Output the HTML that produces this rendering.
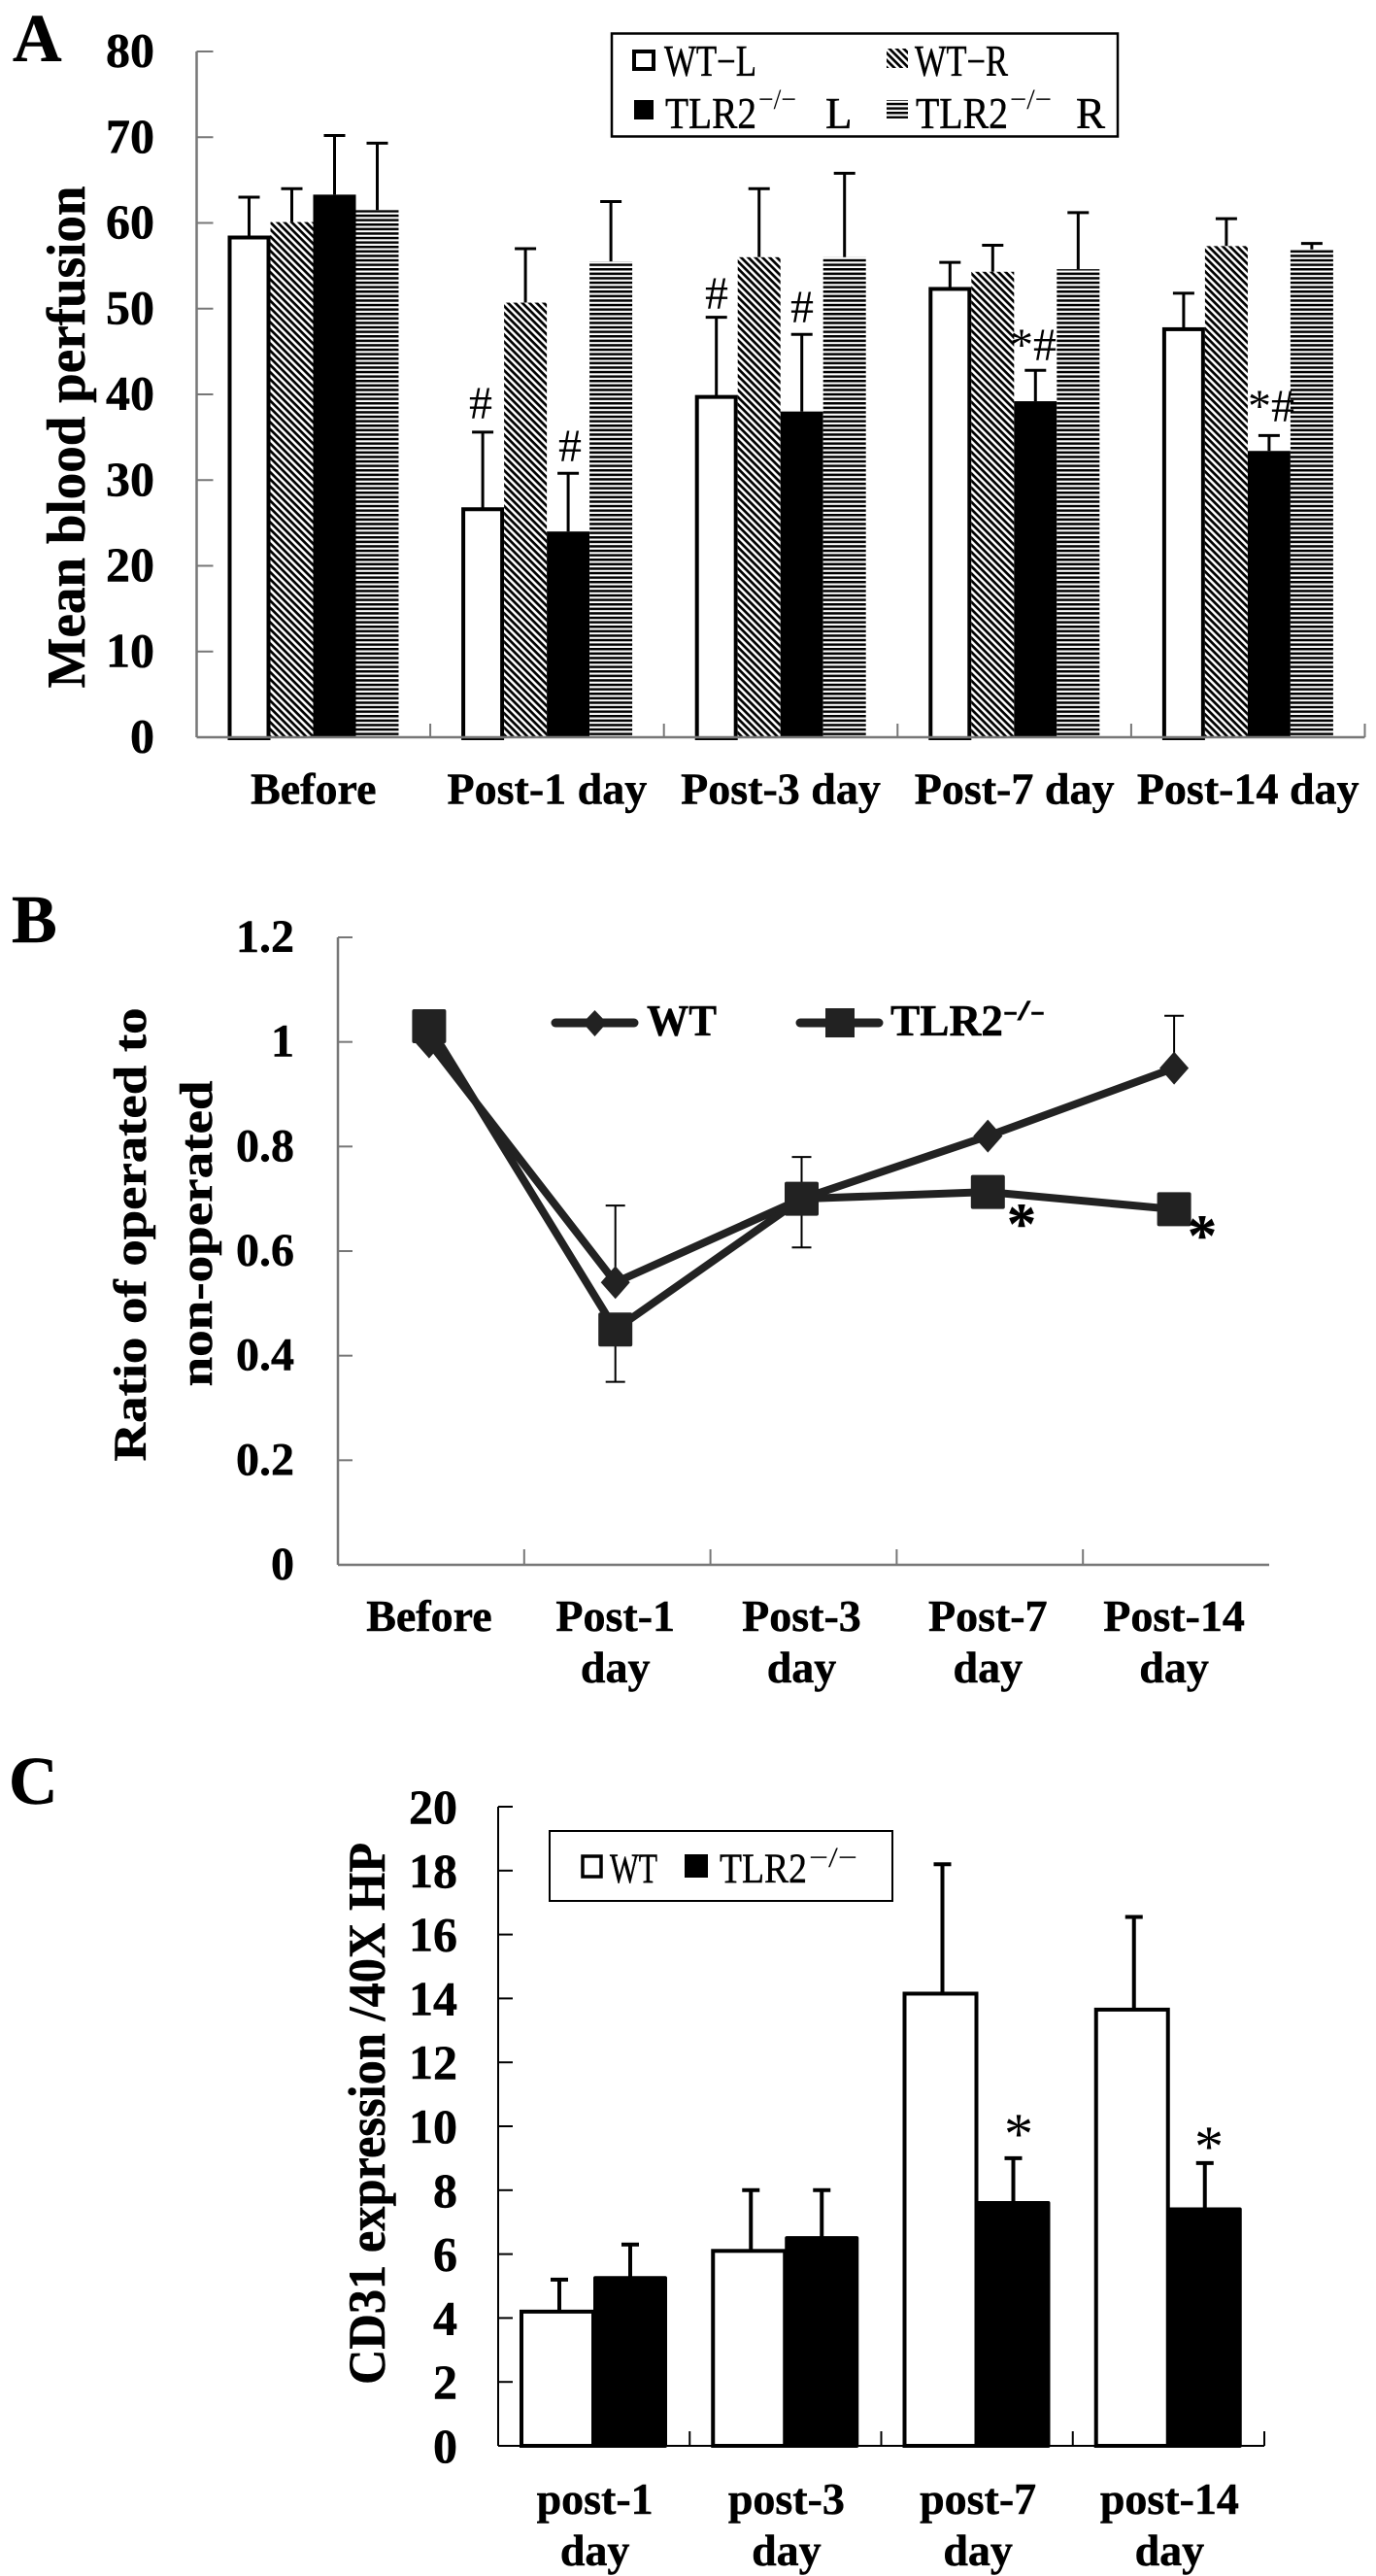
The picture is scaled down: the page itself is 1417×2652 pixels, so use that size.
<!DOCTYPE html>
<html lang="en">
<head>
<meta charset="utf-8">
<title>Blood perfusion and CD31 expression</title>
<style>
html,body{margin:0;padding:0;background:#fff}
svg{display:block}
text{font-family:"Liberation Serif",serif;fill:#000}
.b{font-weight:bold;stroke:#000;stroke-width:.5}
.r{stroke:#000;stroke-width:.5}
</style>
</head>
<body>
<svg id="fig" xmlns="http://www.w3.org/2000/svg" width="1417" height="2652" viewBox="0 0 1417 2652">
<defs>
<pattern id="hatch" patternUnits="userSpaceOnUse" width="5.2" height="5.2" patternTransform="rotate(45)"><rect width="5.2" height="5.2" fill="#fff"/><rect width="5.2" height="2.7" fill="#000"/></pattern>
<pattern id="hlines" patternUnits="userSpaceOnUse" width="4.6" height="4.6"><rect width="4.6" height="4.6" fill="#fff"/><rect width="4.6" height="2.5" fill="#000"/></pattern>
</defs>
<rect width="1417" height="2652" fill="#fff"/>

<text class="b" x="13" y="63" font-size="70">A</text>
<text class="b" x="12" y="970" font-size="70">B</text>
<text class="b" x="9" y="1857" font-size="70">C</text>

<g id="chartA"></g>
<g id="chartB"></g>
<g id="chartC"></g>

<text class="b" transform="translate(87,450) rotate(-90)" text-anchor="middle" font-size="56" textLength="517" lengthAdjust="spacingAndGlyphs">Mean blood perfusion</text>

<g>
<rect x="630" y="34.5" width="521" height="106" fill="#fff" stroke="#000" stroke-width="2.5"/>
<rect x="653" y="53" width="20" height="18" fill="#fff" stroke="#000" stroke-width="4"/>
<text class="r" x="684" y="78" font-size="45" textLength="95" lengthAdjust="spacingAndGlyphs">WT−L</text>
<rect x="913" y="50" width="22" height="20" fill="url(#hatch)"/>
<text class="r" x="942" y="78" font-size="45" textLength="96" lengthAdjust="spacingAndGlyphs">WT−R</text>
<rect x="653" y="103" width="20" height="20" fill="#000"/>
<text class="r" x="685" y="132" font-size="45" textLength="94" lengthAdjust="spacingAndGlyphs">TLR2</text>
<text x="781" y="112" font-size="30" textLength="39" lengthAdjust="spacingAndGlyphs">−/−</text>
<text class="r" x="850" y="132" font-size="45">L</text>
<rect x="913" y="103" width="22" height="19" fill="url(#hlines)"/>
<text class="r" x="943" y="132" font-size="45" textLength="95" lengthAdjust="spacingAndGlyphs">TLR2</text>
<text x="1040" y="112" font-size="30" textLength="43" lengthAdjust="spacingAndGlyphs">−/−</text>
<text class="r" x="1108" y="132" font-size="45">R</text>
</g>

<g>
<text x="495" y="431" font-size="48" text-anchor="middle">#</text>
<text x="587" y="475" font-size="48" text-anchor="middle">#</text>
<text x="738" y="318" font-size="48" text-anchor="middle">#</text>
<text x="826" y="332" font-size="48" text-anchor="middle">#</text>
<text x="1064" y="371" font-size="48" text-anchor="middle">*#</text>
<text x="1309" y="434" font-size="48" text-anchor="middle">*#</text>
</g>

<text class="b" transform="translate(150,1271) rotate(-90)" text-anchor="middle" font-size="48" textLength="467" lengthAdjust="spacingAndGlyphs">Ratio of operated to</text>
<text class="b" transform="translate(218,1270) rotate(-90)" text-anchor="middle" font-size="48" textLength="315" lengthAdjust="spacingAndGlyphs">non-operated</text>

<g>
<line x1="572" y1="1053" x2="653" y2="1053" stroke="#222" stroke-width="9" stroke-linecap="round"/>
<polygon points="612.5,1040 625,1053 612.5,1067 600,1053" fill="#222"/>
<text class="b" x="666" y="1066" font-size="46" textLength="72" lengthAdjust="spacingAndGlyphs">WT</text>
<line x1="824" y1="1053" x2="905" y2="1053" stroke="#222" stroke-width="9" stroke-linecap="round"/>
<rect x="850" y="1038" width="30" height="30" fill="#222"/>
<text class="b" x="917" y="1066" font-size="46" textLength="116" lengthAdjust="spacingAndGlyphs">TLR2</text>
<text class="b" x="1033" y="1050" font-size="30" textLength="43" lengthAdjust="spacingAndGlyphs">-/-</text>
</g>

<text class="b" x="1052" y="1280" font-size="60" text-anchor="middle">*</text>
<text class="b" x="1238" y="1292" font-size="60" text-anchor="middle">*</text>

<text class="b" transform="translate(396,2176) rotate(-90)" text-anchor="middle" font-size="54" textLength="558" lengthAdjust="spacingAndGlyphs">CD31 expression /40X HP</text>

<g>
<rect x="566" y="1885" width="353" height="72" fill="#fff" stroke="#000" stroke-width="2"/>
<rect x="600" y="1911" width="19" height="21" fill="#fff" stroke="#000" stroke-width="3.5"/>
<text class="r" x="628" y="1938" font-size="43" textLength="49" lengthAdjust="spacingAndGlyphs">WT</text>
<rect x="705" y="1909" width="24" height="24" fill="#000"/>
<text class="r" x="741" y="1938" font-size="43" textLength="90" lengthAdjust="spacingAndGlyphs">TLR2</text>
<text x="833" y="1922" font-size="30" textLength="50" lengthAdjust="spacingAndGlyphs">−/−</text>
</g>

<text x="1049" y="2217" font-size="60" text-anchor="middle">*</text>
<text x="1245" y="2230" font-size="60" text-anchor="middle">*</text>
</svg>

<script>
// Panel A data
const aCategories = ["Before", "Post-1 day", "Post-3 day", "Post-7 day", "Post-14 day"];
const aTicks = [0, 10, 20, 30, 40, 50, 60, 70, 80];
const aWtL = [58.3, 26.6, 39.7, 52.3, 47.6];
const aWtR = [60.1, 50.7, 56.0, 54.3, 57.3];
const aTlrL = [63.3, 24.0, 38.0, 39.2, 33.4];
const aTlrR = [61.5, 55.5, 56.0, 54.6, 56.9];
const aWtLErr = [4.7, 9.0, 9.3, 3.1, 4.2];
const aWtRErr = [3.9, 6.3, 8.0, 3.1, 3.2];
const aTlrLErr = [6.9, 6.8, 9.0, 3.6, 1.8];
const aTlrRErr = [7.8, 7.0, 9.8, 6.6, 0.7];

// Panel B data
const bCategoriesTop = ["Before", "Post-1", "Post-3", "Post-7", "Post-14"];
const bCategoriesBottom = ["", "day", "day", "day", "day"];
const bTicks = [0, 0.2, 0.4, 0.6, 0.8, 1, 1.2];
const bWt = [1.0, 0.54, 0.70, 0.82, 0.95];
const bTlr = [1.03, 0.45, 0.70, 0.713, 0.68];
const bWtErrUp = [0.03, 0.147, 0.08, 0, 0.1];
const bTlrErrDown = [0, 0.1, 0.093, 0, 0];

// Panel C data
const cCategoriesTop = ["post-1", "post-3", "post-7", "post-14"];
const cCategoriesBottom = ["day", "day", "day", "day"];
const cTicks = [0, 2, 4, 6, 8, 10, 12, 14, 16, 18, 20];
const cWt = [4.2, 6.1, 14.15, 13.65];
const cTlr = [5.25, 6.5, 7.6, 7.4];
const cWtErr = [1.0, 1.9, 4.05, 2.9];
const cTlrErr = [1.05, 1.5, 1.4, 1.45];

const NS = "http://www.w3.org/2000/svg";
function mk(parent, tag, attrs, txt) {
  const n = document.createElementNS(NS, tag);
  for (const k in attrs) n.setAttribute(k, attrs[k]);
  if (txt !== undefined) n.textContent = txt;
  parent.appendChild(n);
  return n;
}
function pts(list) { return list.map(p => p[0] + "," + p[1]).join(" "); }

/* ---------- Panel A ---------- */
(function () {
  const g = document.getElementById("chartA");
  const x0 = 202.5, catW = 240.6, y0 = 759, yTop = 53;
  const xA = i => x0 + i * catW;
  const yA = v => y0 - (v / 80) * (y0 - yTop);
  const barW = 44, off = 32;
  const axisColor = "#777";

  aTicks.forEach(t => {
    const tick = mk(g, "line", { x1: x0, x2: x0 + 17, y1: yA(t), y2: yA(t), stroke: axisColor, "stroke-width": 2 });
    
    
    const lab = mk(g, "text", { x: 159, y: yA(t) + 15.5, "text-anchor": "end", "font-size": 50, class: "b" }, String(t));
    
    
  });

  const series = [
    { v: aWtL, e: aWtLErr, fill: "#fff", stroke: true, name: "wt-l" },
    { v: aWtR, e: aWtRErr, fill: "url(#hatch)", name: "wt-r" },
    { v: aTlrL, e: aTlrLErr, fill: "#000", name: "tlr2-l" },
    { v: aTlrR, e: aTlrRErr, fill: "url(#hlines)", name: "tlr2-r" }
  ];
  aCategories.forEach((c, i) => {
    series.forEach((s, j) => {
      const bx = xA(i) + off + j * barW;
      const top = yA(s.v[i]);
      const errTop = yA(s.v[i] + s.e[i]);
      const cx = bx + barW / 2;
      const err = mk(g, "line", { x1: cx, x2: cx, y1: top, y2: errTop, stroke: "#000", "stroke-width": 3 });
      
      
      const cap = mk(g, "line", { x1: cx - 11, x2: cx + 11, y1: errTop, y2: errTop, stroke: "#000", "stroke-width": 3 });
      
      
      let bar;
      if (s.stroke) {
        bar = mk(g, "rect", { x: bx + 2, y: top, width: barW - 4, height: y0 + 1 - top, fill: s.fill, stroke: "#000", "stroke-width": 4 });
      } else {
        bar = mk(g, "rect", { x: bx, y: top, width: barW, height: y0 - top, fill: s.fill });
      }
      
      
    });
    const lab = mk(g, "text", { x: xA(i) + catW / 2, y: 827.5, "text-anchor": "middle", "font-size": 46, class: "b" }, c);
    
    
  });
  for (let i = 1; i <= aCategories.length; i++) {
    const t = mk(g, "line", { x1: xA(i), x2: xA(i), y1: y0 - 14, y2: y0, stroke: axisColor, "stroke-width": 2 });
    
    
  }
  const ya = mk(g, "line", { x1: x0, x2: x0, y1: yTop, y2: y0, stroke: axisColor, "stroke-width": 2.5 });
  
  
  const xa = mk(g, "line", { x1: x0, x2: xA(aCategories.length), y1: y0, y2: y0, stroke: axisColor, "stroke-width": 2.5 });
  
  
})();

/* ---------- Panel B ---------- */
(function () {
  const g = document.getElementById("chartB");
  const x0 = 348, catW = 191.8, y0 = 1611, yTop = 965;
  const xB = i => x0 + i * catW;
  const cB = i => xB(i) + catW / 2 - 2;
  const yB = v => y0 - (v / 1.2) * (y0 - yTop);
  const axisColor = "#777", lineColor = "#222";

  bTicks.forEach(t => {
    const tick = mk(g, "line", { x1: x0, x2: x0 + 15, y1: yB(t), y2: yB(t), stroke: axisColor, "stroke-width": 2 });
    
    
    const lab = mk(g, "text", { x: 303, y: yB(t) + 15, "text-anchor": "end", "font-size": 48, class: "b" }, String(t));
    
    
  });
  bCategoriesTop.forEach((c, i) => {
    const cx = cB(i);
    const lab = mk(g, "text", { x: cx, y: 1679, "text-anchor": "middle", "font-size": 46, class: "b" }, c);
    
    
    if (bCategoriesBottom[i]) {
      const lab2 = mk(g, "text", { x: cx, y: 1732, "text-anchor": "middle", "font-size": 46, class: "b" }, bCategoriesBottom[i]);
      
      
    }
  });
  for (let i = 1; i < bCategoriesTop.length; i++) {
    const t = mk(g, "line", { x1: xB(i), x2: xB(i), y1: y0 - 16, y2: y0, stroke: axisColor, "stroke-width": 2 });
    
    
  }
  const ya = mk(g, "line", { x1: x0, x2: x0, y1: yTop, y2: y0, stroke: axisColor, "stroke-width": 2.5 });
  
  
  const xa = mk(g, "line", { x1: x0, x2: xB(bCategoriesTop.length), y1: y0, y2: y0, stroke: axisColor, "stroke-width": 2.5 });
  
  

  const errLine = (i, from, to) => {
    const cx = cB(i);
    const l = mk(g, "line", { x1: cx, x2: cx, y1: yB(from), y2: yB(to), stroke: "#000", "stroke-width": 2 });
    
    
    const c = mk(g, "line", { x1: cx - 10, x2: cx + 10, y1: yB(to), y2: yB(to), stroke: "#000", "stroke-width": 2 });
    
    
  };
  bWt.forEach((v, i) => { if (bWtErrUp[i]) errLine(i, v, v + bWtErrUp[i]); });
  bTlr.forEach((v, i) => { if (bTlrErrDown[i]) errLine(i, v, v - bTlrErrDown[i]); });

  const wtLine = mk(g, "polyline", { points: pts(bWt.map((v, i) => [cB(i), yB(v)])), fill: "none", stroke: lineColor, "stroke-width": 8, "stroke-linejoin": "round" });
  
  
  const tlrLine = mk(g, "polyline", { points: pts(bTlr.map((v, i) => [cB(i), yB(v)])), fill: "none", stroke: lineColor, "stroke-width": 8, "stroke-linejoin": "round" });
  
  

  bWt.forEach((v, i) => {
    const cx = cB(i), cy = yB(v);
    const d = mk(g, "polygon", { points: pts([[cx, cy - 17], [cx + 15, cy], [cx, cy + 17], [cx - 15, cy]]), fill: lineColor });
    
    
  });
  bTlr.forEach((v, i) => {
    const cx = cB(i), cy = yB(v);
    const s = mk(g, "rect", { x: cx - 17.5, y: cy - 17.5, width: 35, height: 35, rx: 2, fill: lineColor });
    
    
  });
})();

/* ---------- Panel C ---------- */
(function () {
  const g = document.getElementById("chartC");
  const x0 = 513, catW = 197.25, y0 = 2518, yTop = 1860;
  const xC = i => x0 + i * catW;
  const yC = v => y0 - (v / 20) * (y0 - yTop);
  const barW = 76, off = 22;

  cTicks.forEach(t => {
    const tick = mk(g, "line", { x1: x0, x2: x0 + 15, y1: yC(t), y2: yC(t), stroke: "#000", "stroke-width": 2 });
    
    
    const lab = mk(g, "text", { x: 471, y: yC(t) + 17, "text-anchor": "end", "font-size": 50, class: "b" }, String(t));
    
    
  });
  cCategoriesTop.forEach((c, i) => {
    const wx = xC(i) + off, tx = wx + barW;
    const drawErr = (cx, v, e) => {
      const top = yC(v + e);
      const l = mk(g, "line", { x1: cx, x2: cx, y1: yC(v), y2: top, stroke: "#000", "stroke-width": 4 });
      
      
      const cp = mk(g, "line", { x1: cx - 9, x2: cx + 9, y1: top, y2: top, stroke: "#000", "stroke-width": 4 });
      
      
    };
    drawErr(wx + barW / 2 + 3, cWt[i], cWtErr[i]);
    drawErr(tx + barW / 2, cTlr[i], cTlrErr[i]);
    const wb = mk(g, "rect", { x: wx + 2, y: yC(cWt[i]), width: barW - 2, height: y0 - yC(cWt[i]), fill: "#fff", stroke: "#000", "stroke-width": 4 });
    
    
    const tb = mk(g, "rect", { x: tx, y: yC(cTlr[i]) - 2, width: barW, height: y0 - yC(cTlr[i]) + 4, rx: 2, fill: "#000" });
    
    
    const cx = xC(i) + catW / 2 + 1;
    const lab = mk(g, "text", { x: cx, y: 2588, "text-anchor": "middle", "font-size": 46, class: "b" }, c);
    
    
    const lab2 = mk(g, "text", { x: cx, y: 2641, "text-anchor": "middle", "font-size": 46, class: "b" }, cCategoriesBottom[i]);
    
    
  });
  for (let i = 1; i <= cCategoriesTop.length; i++) {
    const t = mk(g, "line", { x1: xC(i), x2: xC(i), y1: y0 - 15, y2: y0, stroke: "#000", "stroke-width": 2 });
    
    
  }
  const ya = mk(g, "line", { x1: x0, x2: x0, y1: yTop, y2: y0, stroke: "#000", "stroke-width": 2 });
  
  
  const xa = mk(g, "line", { x1: x0, x2: xC(cCategoriesTop.length), y1: y0, y2: y0, stroke: "#000", "stroke-width": 2 });
  
  
})();
</script>
</body>
</html>
